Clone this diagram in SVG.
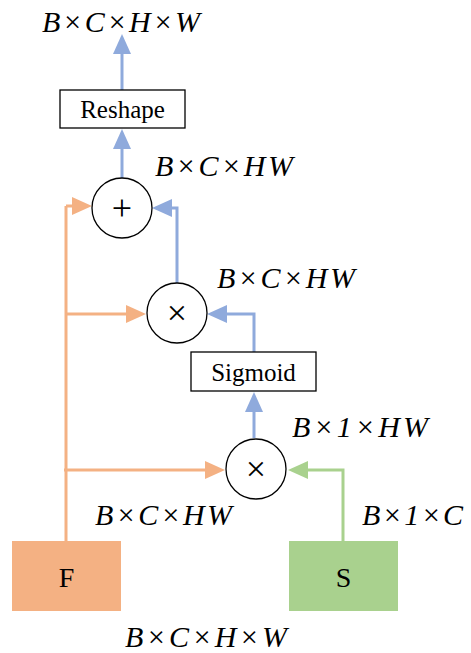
<svg xmlns="http://www.w3.org/2000/svg" width="471" height="653" viewBox="0 0 471 653">
<style>
text{font-family:'Liberation Serif','Times New Roman',serif !important}
.lbl{font-style:italic;font-size:30px;fill:#000}
.txt{font-size:25px;fill:#000;text-anchor:middle}
.big{font-size:28px}
.op{font-size:36px;fill:#000;text-anchor:middle}
.box{fill:#fff;stroke:#000;stroke-width:1.3}
.circ{fill:#fff;stroke:#000;stroke-width:1.3}
.blue{fill:none;stroke:#8FAADC;stroke-width:3;marker-end:url(#ab)}
.orange{fill:none;stroke:#F4B183;stroke-width:3}
.oarr{marker-end:url(#ao)}
.green{fill:none;stroke:#A9D18E;stroke-width:3;marker-end:url(#ag)}
</style>
<defs>
<marker id="ab" markerUnits="userSpaceOnUse" markerWidth="20" markerHeight="18" viewBox="0 0 20 18" refX="10" refY="9" orient="auto"><path d="M0,0 L20,9 L0,18 z" fill="#8FAADC"/></marker>
<marker id="ao" markerUnits="userSpaceOnUse" markerWidth="20" markerHeight="18" viewBox="0 0 20 18" refX="10" refY="9" orient="auto"><path d="M0,0 L20,9 L0,18 z" fill="#F4B183"/></marker>
<marker id="ag" markerUnits="userSpaceOnUse" markerWidth="20" markerHeight="18" viewBox="0 0 20 18" refX="10" refY="9" orient="auto"><path d="M0,0 L20,9 L0,18 z" fill="#A9D18E"/></marker>
</defs>
<rect width="471" height="653" fill="#fff"/>
<g id="connectors">
<path class="blue" d="M122,90 L122,44"/>
<path class="blue" d="M122,178 L122,139"/>
<path class="blue" d="M177,283 L177,208 L162,208"/>
<path class="blue" d="M254,352 L254,314 L217,314"/>
<path class="blue" d="M254,438 L254,402"/>
<path class="orange" d="M66,541 L66,206"/>
<path class="orange oarr" d="M66,206 L82,206"/>
<path class="orange oarr" d="M65,314 L136,314"/>
<path class="orange oarr" d="M64,470 L215,470"/>
<path class="green" d="M343,541 L343,470 L298,470"/>
</g>
<g id="reshape"><rect class="box" x="60" y="90" width="125" height="38"/><text class="txt" font-family="Liberation Serif" x="122.5" y="118">Reshape</text></g>
<g id="add"><circle class="circ" cx="122" cy="208" r="30"/><text class="op" font-family="Liberation Serif" x="122" y="220">+</text></g>
<g id="mul1"><circle class="circ" cx="177" cy="313" r="30"/><text class="op" font-family="Liberation Serif" x="177" y="325">×</text></g>
<g id="sigmoid"><rect class="box" x="191" y="352" width="125" height="39"/><text class="txt" font-family="Liberation Serif" x="253.5" y="381">Sigmoid</text></g>
<g id="mul2"><circle class="circ" cx="256" cy="469" r="30"/><text class="op" font-family="Liberation Serif" x="256" y="481">×</text></g>
<g id="F"><rect x="12" y="541" width="109" height="70" fill="#F4B183"/><text class="txt big" font-family="Liberation Serif" x="66.5" y="587">F</text></g>
<g id="S"><rect x="289" y="541" width="109" height="70" fill="#A9D18E"/><text class="txt big" font-family="Liberation Serif" x="343.5" y="587">S</text></g>
<g id="labels" font-family="Liberation Serif">
<text class="lbl" font-family="Liberation Serif" x="42" y="32" textLength="158" lengthAdjust="spacing">B×C×H×W</text>
<text class="lbl" font-family="Liberation Serif" x="155" y="176" textLength="138" lengthAdjust="spacing">B×C×HW</text>
<text class="lbl" font-family="Liberation Serif" x="217" y="288" textLength="138" lengthAdjust="spacing">B×C×HW</text>
<text class="lbl" font-family="Liberation Serif" x="292" y="437" textLength="136" lengthAdjust="spacing">B×1×HW</text>
<text class="lbl" font-family="Liberation Serif" x="95" y="525" textLength="137" lengthAdjust="spacing">B×C×HW</text>
<text class="lbl" font-family="Liberation Serif" x="362" y="525" textLength="101" lengthAdjust="spacing">B×1×C</text>
<text class="lbl" font-family="Liberation Serif" x="125" y="647" textLength="162" lengthAdjust="spacing">B×C×H×W</text>
</g>
</svg>
